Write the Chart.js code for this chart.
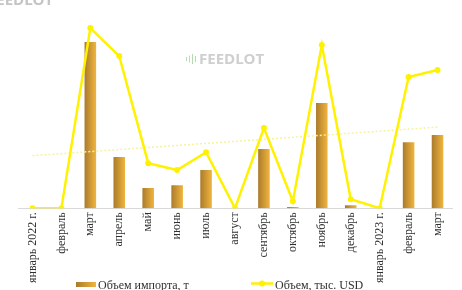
<!DOCTYPE html>
<html>
<head>
<meta charset="utf-8">
<script src="https://cdn.jsdelivr.net/npm/chart.js@4/dist/chart.umd.min.js"></script>
<style>
  html, body { margin: 0; padding: 0; overflow: hidden; background: #fff; }
  #wrap { width: 462px; height: 290px; overflow: hidden; }
</style>
</head>
<body>
<div id="wrap"><canvas id="chart" width="462" height="300"></canvas></div>
<script>
(() => {
  'use strict';

  // months, January 2022 .. March 2023
  const categories = ['январь 2022 г.', 'февраль', 'март', 'апрель', 'май', 'июнь', 'июль',
    'август', 'сентябрь', 'октябрь', 'ноябрь', 'декабрь', 'январь 2023 г.', 'февраль', 'март'];

  // import volume, t (bars)
  const importTons = [0, 0, 1060, 326, 128, 147, 243, 0, 377, 8, 670, 19, 0, 421, 466];

  // value, thousand USD (line)
  const valueUsd = [0, 0, 1149, 970, 287, 243, 357, 0, 511, 45, 1040, 57, 0, 836, 881];

  // linear trend of the value line, first and last month
  const trendUsd = [335, null, null, null, null, null, null, null, null, null, null, null, null, null, 517];

  const seriesNames = ['Объем импорта, т', 'Объем, тыс. USD'];

  const SERIF = '"Liberation Serif", "DejaVu Serif", serif';
  const BAR_DARK = '#a97a2c';
  const BAR_LIGHT = '#f2b63e';
  const LINE_COLOR = '#fff200';

  /**
   * Horizontal gradient for one bar
   */
  const barFill = (ctx) => {
    const xScale = ctx.chart.scales.x;
    if (!xScale || ctx.type !== 'data') {
      return BAR_LIGHT;
    }
    const cx = xScale.getPixelForValue(ctx.dataIndex);
    if (!Number.isFinite(cx)) {
      return BAR_LIGHT;
    }
    const g = ctx.chart.ctx.createLinearGradient(cx - 6, 0, cx + 6, 0);
    g.addColorStop(0, BAR_DARK);
    g.addColorStop(1, BAR_LIGHT);
    return g;
  };

  /**
   * Draws the FEEDLOT watermarks behind the data
   */
  const watermark = {
    id: 'watermark',
    beforeDatasetsDraw(chart) {
      const c = chart.ctx;
      c.save();
      c.font = 'bold 15px "Open Sans", sans-serif';
      c.textBaseline = 'alphabetic';
      c.fillStyle = '#c4c4c4';
      c.fillText('FEEDLOT', -12, 5);
      c.fillStyle = '#cfcfcf';
      c.fillText('FEEDLOT', 199, 64);
      // small green bars icon
      c.strokeStyle = '#b5dcb0';
      c.lineWidth = 1;
      const bars = [[186, 4], [189, 7], [192, 10], [195, 6]];
      bars.forEach(([x, h]) => {
        c.beginPath();
        c.moveTo(x + 0.5, 59 - h / 2);
        c.lineTo(x + 0.5, 59 + h / 2);
        c.stroke();
      });
      c.restore();
    }
  };

  /**
   * Draws the legend at the bottom, Excel style
   */
  const bottomLegend = {
    id: 'bottomLegend',
    afterDraw(chart) {
      const c = chart.ctx;
      const y = 284.5;
      c.save();
      c.font = '12px ' + SERIF;
      c.textBaseline = 'middle';

      // bars item
      const g = c.createLinearGradient(76, 0, 96, 0);
      g.addColorStop(0, BAR_DARK);
      g.addColorStop(1, BAR_LIGHT);
      c.fillStyle = g;
      c.fillRect(76, y - 2.5, 20, 5);
      c.fillStyle = '#303030';
      c.fillText(chart.data.datasets[1].label, 98, y + 1.5);

      // line item
      c.strokeStyle = LINE_COLOR;
      c.lineWidth = 2.5;
      c.beginPath();
      c.moveTo(251, y - 1);
      c.lineTo(273, y - 1);
      c.stroke();
      c.fillStyle = LINE_COLOR;
      c.beginPath();
      c.arc(262, y - 1, 3, 0, Math.PI * 2);
      c.fill();
      c.fillStyle = '#303030';
      c.fillText(chart.data.datasets[0].label, 275, y + 1.5);
      c.restore();
    }
  };

  const ctx = document.getElementById('chart').getContext('2d');

  new Chart(ctx, {
    type: 'bar',
    data: {
      labels: categories,
      datasets: [
        {
          type: 'line',
          label: seriesNames[1],
          data: valueUsd,
          yAxisID: 'y1',
          borderColor: LINE_COLOR,
          backgroundColor: LINE_COLOR,
          borderWidth: 2.5,
          pointRadius: 3,
          pointBorderWidth: 0,
          tension: 0,
          order: 0
        },
        {
          type: 'bar',
          label: seriesNames[0],
          data: importTons,
          yAxisID: 'y',
          backgroundColor: barFill,
          barPercentage: 0.4,
          categoryPercentage: 1,
          order: 2
        },
        {
          type: 'line',
          label: 'trend',
          data: trendUsd,
          yAxisID: 'y1',
          spanGaps: true,
          borderColor: '#f8f29a',
          borderWidth: 1.5,
          borderDash: [2, 2],
          pointRadius: 0,
          order: 1
        }
      ]
    },
    options: {
      responsive: false,
      animation: false,
      layout: { padding: { left: 18, right: 10, top: 20, bottom: 13 } },
      plugins: {
        legend: { display: false },
        tooltip: { enabled: false }
      },
      scales: {
        x: {
          offset: true,
          grid: { display: false, drawTicks: false },
          border: { display: true, color: '#d9d9d9', width: 1 },
          ticks: {
            autoSkip: false,
            maxRotation: 90,
            minRotation: 90,
            padding: 4,
            color: '#303030',
            font: { family: SERIF, size: 12 }
          }
        },
        y: { display: false, min: 0, max: 1200 },
        y1: { display: false, min: 0, max: 1200 }
      }
    },
    plugins: [watermark, bottomLegend]
  });
})();
</script>
</body>
</html>
